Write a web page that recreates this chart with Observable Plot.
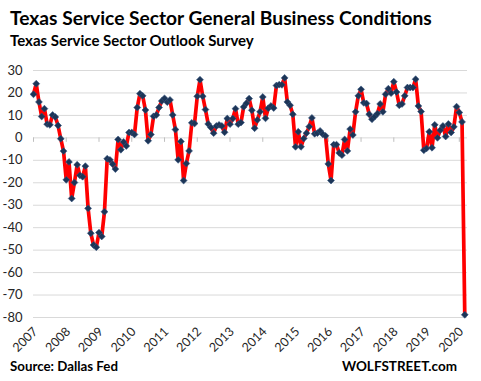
<!DOCTYPE html>
<html><head><meta charset="utf-8">
<script src="https://cdn.jsdelivr.net/npm/d3@7"></script>
<script src="https://cdn.jsdelivr.net/npm/@observablehq/plot@0.6"></script>
<style>
body{margin:0;background:#fff;width:481px;height:381px;position:relative;overflow:hidden;font-family:Lato,"Open Sans",sans-serif;}
.t{position:absolute;left:10px;white-space:nowrap;font-weight:bold;color:#000;line-height:1;}
#title{top:8px;font-size:19.2px;}
#subtitle{top:33px;font-size:15px;}
#chart{position:absolute;left:0;top:56px;}
#source{top:360px;font-size:13.3px;}
#brand{top:360px;font-size:13.5px;left:auto;right:24px;}
</style></head><body>
<div id="chart"></div>
<div class="t" id="title">Texas Service Sector General Business Conditions</div>
<div class="t" id="subtitle">Texas Service Sector Outlook Survey</div>
<div class="t" id="source">Source: Dallas Fed</div>
<div class="t" id="brand">WOLFSTREET.com</div>
<script>
const yearLabels = ["2007","2008","2009","2010","2011","2012","2013","2014","2015","2016","2017","2018","2019","2020"];
const yTicks = [30,20,10,0,-10,-20,-30,-40,-50,-60,-70,-80];
// Monthly index values, one array per year (Jan..Dec)
const v2007 = [19.4,24.1,16.0,9.5,13.0,6.1,5.8,10.2,9.3,5.5,-0.4,-5.9];
const v2008 = [-18.7,-10.7,-27.0,-19.9,-12.0,-16.7,-17.3,-12.6,-31.4,-42.5,-47.7,-48.7];
const v2009 = [-42.2,-43.9,-32.9,-9.3,-9.8,-11.7,-13.9,-0.7,-5.3,-1.8,-3.6,2.4];
const v2010 = [2.4,1.5,13.5,19.7,18.7,12.4,-1.3,1.5,9.6,10.2,13.5,16.4];
const v2011 = [17.6,15.9,16.9,10.2,3.7,-9.8,-1.6,-19.0,-11.4,-5.8,6.7,6.4];
const v2012 = [18.5,25.9,18.5,12.6,6.2,4.6,2.1,5.3,5.8,5.3,2.5,8.6];
const v2013 = [6.1,8.6,13.0,6.1,6.8,13.8,15.4,17.5,12.3,4.3,8.0,11.6];
const v2014 = [18.2,8.7,13.2,14.2,13.3,23.3,23.7,23.6,26.7,16.0,14.5,10.5];
const v2015 = [-4.0,2.7,-4.0,-0.3,2.1,5.0,8.9,1.8,2.1,3.1,1.6,0.9];
const v2016 = [-11.6,-19.0,-3.0,-3.0,-6.7,-7.7,-0.7,-5.8,3.9,1.3,11.6,18.7];
const v2017 = [21.6,15.6,15.3,10.5,8.3,9.5,10.8,15.1,11.6,19.4,21.9,19.9];
const v2018 = [25.0,20.4,14.5,15.1,18.7,22.4,22.4,22.4,26.1,14.2,11.7,-5.5];
const v2019 = [-4.7,2.7,-4.4,5.8,0.0,3.4,5.3,0.6,6.2,2.4,4.9,13.9];
const v2020 = [11.3,7.1,-78.8];

const series = [v2007,v2008,v2009,v2010,v2011,v2012,v2013,v2014,v2015,v2016,v2017,v2018,v2019,v2020];
const data = series.flatMap((arr, yi) => arr.map((v, m) => ({i: yi * 12 + m, v})));
const yearPos = yearLabels.map((_, k) => k * 12);

const chart = Plot.plot({
  width: 481, height: 318,
  marginTop: 14, marginBottom: 57, marginLeft: 33, marginRight: 14,
  x: {type: "linear", domain: [0, 159], label: null},
  y: {domain: [-80, 30], label: null},
  style: {fontFamily: "Lato, 'Open Sans', sans-serif", fontSize: "12.5px", color: "#262626", background: "transparent"},
  marks: [
    Plot.gridY(yTicks, {stroke: "#d9d9d9", strokeOpacity: 1}),
    Plot.ruleX(yearPos, {x: d => d, y1: 0, y2: -2, stroke: "#bfbfbf"}),
    Plot.axisY(yTicks, {tickSize: 0, tickPadding: 11, tickFormat: d => String(d), fontSize: 13}),
    Plot.axisX(yearPos, {anchor: "bottom", tickSize: 0, tickPadding: 12, tickRotate: -45, dx: 2, tickFormat: (d, k) => yearLabels[k]}),
    Plot.line(data, {x: "i", y: "v", stroke: "#ff0000", strokeWidth: 3.7}),
    Plot.dot(data, {x: "i", y: "v", symbol: "diamond2", r: 3.1, fill: "#1c3557", stroke: "#34547e", strokeWidth: 0.6})
  ]
});
document.getElementById("chart").appendChild(chart);
</script>
</body></html>
